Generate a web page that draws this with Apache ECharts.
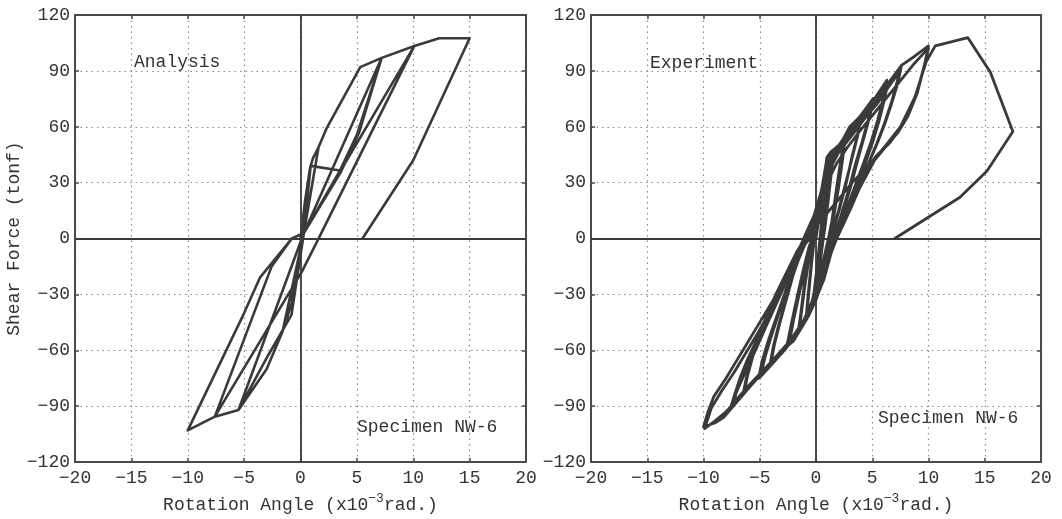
<!DOCTYPE html>
<html>
<head>
<meta charset="utf-8">
<script src="https://cdn.jsdelivr.net/npm/echarts@6/dist/echarts.min.js"></script>
<style>
html,body{margin:0;padding:0;background:#fff;}
#c{width:1062px;height:519px;}
</style>
</head>
<body>
<div id="c"></div>
<script>
// ---- data ----
var xTicks = [-20, -15, -10, -5, 0, 5, 10, 15, 20];
var yTicks = [-120, -90, -60, -30, 0, 30, 60, 90, 120];
var panelTitles = ['Analysis', 'Experiment'];
var specimenLabel = 'Specimen NW-6';
var xAxisTitle = 'Rotation Angle (x10';
var xAxisSup = '\u22123';
var xAxisTail = 'rad.)';
var yAxisTitle = 'Shear Force (tonf)';

// Analysis: [rotation angle (x1e-3 rad), shear force (tonf)]
var analysisPath = [
  [0,0],[0.4,20],[0.85,38],
  [0.3,3],[-0.3,-15],[-0.8,-35],
  [0.3,3],[0.85,38],[1.1,43],[1.6,49],
  [0.3,3],[-0.8,-35],[-1.6,-50],
  [0.3,3],[1.6,49],[2.3,59],[5.3,92],[7.2,97],
  [5,55.7],[3.5,36.5],[0.3,3],[-1.6,-50],[-3,-70],[-5.5,-92],
  [-2.85,-62.5],[-0.8,-41],[0.3,3],[0.9,39],[3.5,36.5],[5,55.7],[7.2,97],
  [5.2,57],[3.6,36],[0.3,3],[-5.5,-92],[-7.6,-95.6],
  [-2.55,-14.8],[-0.77,0],[0.3,3],[7.2,97],[10.1,103.4],
  [1.6,0],[0.1,-18],[-7.6,-95.6],[-10,-103],
  [-5,-40],[-3.6,-21],[-0.77,0],[0.3,3],[10.1,103.4],[12.3,107.5],[15,107.5],
  [10,42],[5.5,0]
];

// Experiment: cycles grouped by amplitude
var expCyclesSmall = [
  [0,0],[0.3,12],[0.6,25],[0.95,43],
  [0.8,30],[0.55,12],[0.35,0],[0.1,-15],[-0.2,-30],[-0.6,-40],[-0.85,-43],
  [-0.65,-30],[-0.4,-14],[-0.15,0],[0.25,15],[0.6,30],[0.95,42],
  [0.85,30],[0.6,12],[0.4,0],[0.15,-15],[-0.15,-29],[-0.5,-38],[-0.9,-44],
  [-0.7,-30],[-0.45,-15],[-0.2,0],[0.2,14],[0.55,28],[1.0,44],[1.4,47]
];
var expCycles15 = [
  [1.2,36],[0.9,20],[0.6,5],[0.5,0],[0.25,-14],[-0.1,-28],[-0.6,-40],[-1.2,-47],[-1.5,-50],
  [-1.3,-40],[-1.0,-26],[-0.6,-10],[-0.35,0],[0.1,12],[0.45,24],[0.8,36],[1.2,45],[1.6,48],
  [1.4,37],[1.1,21],[0.8,6],[0.65,0],[0.35,-14],[0,-27],[-0.5,-39],[-1.1,-46],[-1.6,-51],
  [-1.35,-40],[-1.05,-25],[-0.7,-10],[-0.4,0],[0.05,12],[0.4,23],[0.75,35],[1.15,44],[1.8,49]
];
var expCycles25 = [
  [2.1,50.5],[2.5,54],
  [2.3,42],[1.9,25],[1.4,8],[1.1,0],[0.7,-12],[0.2,-25],[-0.3,-35],[-1.0,-45],[-2.0,-55],[-2.6,-58],
  [-2.2,-46],[-1.7,-32],[-1.1,-16],[-0.6,-4],[-0.3,0],[0.2,12],[0.6,26],[1.1,40],[1.8,48],[2.6,55],
  [2.4,44],[2.0,27],[1.5,9],[1.2,0],[0.8,-12],[0.3,-25],[-0.2,-34],[-0.9,-44],[-1.9,-54],[-2.5,-57],
  [-2.1,-45],[-1.6,-31],[-1.0,-15],[-0.5,-3],[-0.25,0],[0.25,13],[0.7,28],[1.2,41],[1.9,49],[2.5,53],
  [2.2,42],[1.8,26],[1.4,9],[1.1,0],[0.6,-13],[0.1,-26],[-0.5,-38],[-1.3,-48],[-2.4,-57],
  [-2.0,-44],[-1.5,-30],[-0.9,-14],[-0.45,-2],[-0.2,0],[0.3,14],[0.8,30],[1.4,43],[2.2,51],[3,60]
];
var expCycles4 = [
  [3.5,63],[4.0,66],
  [3.7,56],[3.2,44],[2.7,30],[2.1,16],[1.5,4],[1.3,0],[0.8,-13],[0.3,-25],[-0.2,-34],[-0.9,-44],[-1.9,-53],[-3.0,-61],[-4.0,-67],
  [-3.7,-57],[-3.2,-45],[-2.6,-32],[-2.0,-19],[-1.3,-7],[-0.7,0],[-0.1,11],[0.4,22],[0.8,33],[1.3,42],[2.1,50],[3.0,58],[4.0,65],
  [3.7,55],[3.2,43],[2.6,29],[2.0,15],[1.4,3],[1.25,0],[0.75,-13],[0.25,-25],[-0.3,-35],[-1.0,-45],[-2.0,-54],[-3.1,-62],[-4.1,-68],
  [-3.8,-58],[-3.3,-46],[-2.7,-33],[-2.1,-20],[-1.4,-8],[-0.75,0],[-0.15,11],[0.35,22],[0.75,33],[1.3,43],[2.2,51],[3.1,59],[3.9,65.5]
];
var expCycles5 = [
  [5.1,75.2],
  [4.8,66],[4.3,55],[3.7,42],[3.1,28],[2.4,14],[1.6,2],[1.4,0],[0.9,-12],[0.4,-24],[-0.1,-33],[-0.8,-43],[-1.8,-52],[-2.8,-60],[-3.6,-65],[-4.3,-69],[-5.1,-75],
  [-4.8,-66],[-4.2,-54],[-3.5,-42],[-2.7,-28],[-1.9,-15],[-1.1,-4],[-0.6,0],[0,10],[0.5,20],[0.9,32],[1.4,42],[2.3,50],[3.1,58],[4.0,65],[5.0,73],
  [4.7,64],[4.2,54],[3.6,41],[3.0,27],[2.3,13],[1.6,1],[1.5,0],[1.0,-12],[0.5,-24],[0,-33],[-0.7,-42],[-1.7,-51],[-2.7,-59],[-3.7,-66],[-4.9,-74],
  [-4.6,-65],[-4.0,-53],[-3.3,-40],[-2.5,-26],[-1.7,-13],[-1.0,-3],[-0.5,0],[0.1,11],[0.55,22],[1.0,34],[1.6,44],[2.5,52],[3.3,59],[4.1,66],[5.0,74],
  [4.6,63],[4.1,52],[3.5,40],[2.9,26],[2.2,12],[1.5,0],[1.0,-12],[0.5,-23],[-0.1,-33],[-0.9,-44],[-1.9,-53],[-3.0,-61],[-4.0,-67],[-4.9,-73],
  [-4.5,-63],[-3.9,-51],[-3.2,-38],[-2.4,-25],[-1.6,-12],[-0.9,-2],[-0.45,0],[0.2,12],[0.6,24],[1.1,36],[1.8,46],[2.8,55],[3.6,61],[4.5,68],[5.2,75],[6.3,85]
];
var expCycles65 = [
  [6.0,76],[5.5,64],[4.9,52],[4.2,40],[3.4,27],[2.6,14],[1.8,3],[1.6,0],[1.1,-11],[0.6,-22],[0,-31],[-0.7,-41],[-1.6,-50],[-2.6,-58],[-3.7,-65],[-4.8,-72],[-5.8,-79],[-6.4,-83],
  [-6.1,-74],[-5.6,-63],[-5.0,-52],[-4.2,-40],[-3.4,-29],[-2.5,-18],[-1.6,-7],[-0.9,0],[-0.2,11],[0.4,23],[0.9,34],[1.5,43],[2.4,50],[3.3,57],[4.3,65],[5.3,73],[6.4,84],
  [6.1,75],[5.6,63],[5.0,51],[4.3,39],[3.5,26],[2.7,13],[1.9,2],[1.7,0],[1.2,-11],[0.7,-22],[0.1,-31],[-0.6,-40],[-1.5,-49],[-2.5,-57],[-3.6,-64],[-4.7,-71],[-5.8,-79],[-6.5,-84],
  [-6.2,-75],[-5.7,-63],[-5.1,-52],[-4.3,-40],[-3.5,-29],[-2.6,-18],[-1.7,-7],[-0.95,0],[-0.25,11],[0.35,23],[0.85,34],[1.5,44],[2.5,52],[3.5,59],[4.6,67],[5.6,75],[6.5,84],[7.6,93]
];
var expCycles75 = [
  [7.3,85],[6.8,74],[6.2,63],[5.5,52],[4.8,42],[4.0,31],[3.1,19],[2.2,8],[1.6,0],[1.1,-10],[0.6,-20],[0.1,-29],[-0.5,-38],[-1.3,-47],[-2.2,-55],[-3.2,-62],[-4.2,-68],[-5.2,-74],[-6.2,-81],[-7.0,-87],[-7.5,-91],
  [-7.2,-84],[-6.6,-76],[-6.0,-68],[-5.3,-59],[-4.5,-48],[-3.6,-36],[-2.7,-24],[-1.8,-12],[-1.0,-2],[-0.8,0],[-0.1,12],[0.5,24],[1.0,35],[1.7,44],[2.6,51],[3.5,58],[4.5,66],[5.4,73],[6.3,81],[7.0,87],[7.5,92],
  [7.2,84],[6.7,73],[6.1,62],[5.4,51],[4.7,41],[3.9,30],[3.0,18],[2.1,7],[1.6,0],[1.1,-11],[0.6,-21],[0,-30],[-0.6,-39],[-1.4,-48],[-2.4,-56],[-3.4,-63],[-4.4,-69],[-5.5,-76],[-6.5,-83],[-7.4,-90],
  [-7.1,-83],[-6.5,-74],[-5.9,-66],[-5.2,-57],[-4.4,-46],[-3.5,-34],[-2.6,-22],[-1.7,-10],[-0.9,0],[-0.2,11],[0.4,23],[0.9,34],[1.6,43],[2.5,50],[3.4,57],[4.4,65],[5.4,72],[6.3,80],[7.1,87],[7.6,93],
  [7.3,84],[6.7,72],[6.0,60],[5.3,49],[4.5,38],[3.7,27],[2.8,16],[2.0,6],[1.5,0],[1.0,-11],[0.4,-22],[-0.1,-31],[-0.8,-41],[-1.7,-50],[-2.7,-58],[-3.8,-65],[-4.9,-72],[-6.0,-79],[-7.0,-86],[-7.6,-91],
  [-7.2,-83],[-6.7,-74],[-6.1,-65],[-5.4,-56],[-4.6,-45],[-3.7,-33],[-2.8,-21],[-1.8,-9],[-0.8,0],[0,12],[0.6,25],[1.2,37],[2.0,46],[3.0,54],[4.0,62],[5.0,70],[6.0,78],[7.0,86],[7.6,93],[8.8,98],[10,103.4]
];
var expCycles10 = [
  [9.6,92],[9.0,78],[8.2,66],[7.5,59],[6.5,51],[5.3,44],[4.6,36],[3.9,27.5],[3.0,15],[1.84,0],[1.2,-10],[0.6,-20],[0,-30],[-0.8,-42],[-1.8,-52],[-3.0,-61],[-4.3,-69],[-5.8,-79],[-7.5,-91],[-8.2,-96],[-9.0,-99],[-10,-101],
  [-9.6,-93],[-9.1,-85],[-8.0,-75],[-7.0,-65],[-6.2,-57],[-5.2,-47],[-4.2,-37],[-3.2,-27],[-2.3,-16],[-1.6,-7],[-1.1,0],[-0.24,11.5],[0.4,20],[1.0,30],[1.8,40],[2.8,49],[3.8,57],[5.0,66],[6.2,75],[7.4,84],[8.6,93],[9.5,99],[10,102],
  [9.5,90],[8.9,77],[8.1,65],[7.3,57],[6.3,50],[5.2,42],[4.4,33],[3.6,24],[2.7,12],[1.8,0],[1.1,-12],[0.4,-23],[-0.3,-33],[-1.1,-44],[-2.2,-54],[-3.5,-63],[-5.0,-73],[-6.6,-84],[-8.0,-93],[-9.0,-98],[-9.9,-102]
];
var expFinal = [
  [-9.3,-91],[-8.4,-82],[-7.3,-72],[-6.2,-61],[-5.1,-50],[-4.1,-39],[-3.1,-27],[-2.2,-16],[-1.5,-6],[-1.0,0],[0.2,8],[1.6,18],[3.2,30],[4.8,40],[6.2,50],[7.5,60],[8.8,76],[9.8,95],[10.6,103.4],
  [13.5,107.8],[15.5,89.3],[17.5,57.5],[15.2,36.3],[12.8,22.2],[7,0]
];

// ---- build ----
var experimentPath = [].concat(expCyclesSmall, expCycles15, expCycles25, expCycles4, expCycles5,
  expCycles65, expCycles75, expCycles10, expFinal);
var FONT = "'Liberation Mono', 'DejaVu Sans Mono', monospace";
var TXT = '#333';
var AX = '#4a4a4a';
function minus(v) { return String(v).replace('-', '\u2212'); }

var xMin = xTicks[0], xMax = xTicks[xTicks.length - 1], xInt = xTicks[1] - xTicks[0];
var yMin = yTicks[0], yMax = yTicks[yTicks.length - 1], yInt = yTicks[1] - yTicks[0];
var gridDash = { color: '#8a8a8a', type: [1.5, 4], width: 1.2 };

function xBottom(gi) {
  return {
    type: 'value', gridIndex: gi, min: xMin, max: xMax, interval: xInt, position: 'bottom',
    axisLine: { show: true, onZero: false, lineStyle: { color: AX, width: 2 } },
    axisTick: { show: true, inside: true, length: 4, lineStyle: { color: AX, width: 1.5 } },
    splitLine: { show: true, lineStyle: gridDash },
    axisLabel: { fontFamily: FONT, fontSize: 18, color: TXT, margin: 7, formatter: minus },
    name: '{b|' + xAxisTitle + '}{s|' + xAxisSup + '}{b|' + xAxisTail + '}',
    nameLocation: 'middle', nameGap: 27,
    nameTextStyle: {
      fontFamily: FONT, fontSize: 18, color: TXT,
      rich: {
        b: { fontFamily: FONT, fontSize: 18, color: TXT, lineHeight: 22, verticalAlign: 'bottom' },
        s: { fontFamily: FONT, fontSize: 13, color: TXT, lineHeight: 22, verticalAlign: 'top' }
      }
    }
  };
}
function xTop(gi) {
  return {
    type: 'value', gridIndex: gi, min: xMin, max: xMax, interval: xInt, position: 'top',
    axisLine: { show: true, onZero: false, lineStyle: { color: AX, width: 2 } },
    axisTick: { show: true, inside: true, length: 4, lineStyle: { color: AX, width: 1.5 } },
    splitLine: { show: false }, axisLabel: { show: false }
  };
}
function yLeft(gi, withName) {
  var a = {
    type: 'value', gridIndex: gi, min: yMin, max: yMax, interval: yInt, position: 'left',
    axisLine: { show: true, onZero: false, lineStyle: { color: AX, width: 2 } },
    axisTick: { show: true, inside: true, length: 4, lineStyle: { color: AX, width: 1.5 } },
    splitLine: { show: true, lineStyle: gridDash },
    axisLabel: { fontFamily: FONT, fontSize: 18, color: TXT, margin: 5, formatter: minus }
  };
  if (withName) {
    a.name = yAxisTitle; a.nameLocation = 'middle'; a.nameGap = 50; a.nameRotate = 90;
    a.nameTextStyle = { fontFamily: FONT, fontSize: 18, color: TXT };
  }
  return a;
}
function yRight(gi) {
  return {
    type: 'value', gridIndex: gi, min: yMin, max: yMax, interval: yInt, position: 'right',
    axisLine: { show: true, onZero: false, lineStyle: { color: AX, width: 2 } },
    axisTick: { show: true, inside: true, length: 4, lineStyle: { color: AX, width: 1.5 } },
    splitLine: { show: false }, axisLabel: { show: false }
  };
}
function zeroLines() {
  return {
    silent: true, symbol: 'none', label: { show: false },
    lineStyle: { color: '#3a3a3a', width: 1.8, type: 'solid' },
    data: [{ xAxis: 0 }, { yAxis: 0 }], animation: false
  };
}
function curve(xi, yi, data, w) {
  return {
    type: 'line', xAxisIndex: xi, yAxisIndex: yi, data: data, showSymbol: false, symbol: 'none',
    lineStyle: { color: '#3a3a3a', width: w, join: 'round', cap: 'round' },
    silent: true, animation: false, z: 3,
    markLine: zeroLines()
  };
}

var chart = echarts.init(document.getElementById('c'), null, { renderer: 'canvas' });
chart.setOption({
  animation: false,
  backgroundColor: '#ffffff',
  grid: [
    { left: 75, top: 15, width: 451, height: 454 },
    { left: 591, top: 15, width: 450, height: 454 }
  ],
  xAxis: [xBottom(0), xTop(0), xBottom(1), xTop(1)],
  yAxis: [yLeft(0, true), yRight(0), yLeft(1, false), yRight(1)],
  series: [
    curve(0, 0, analysisPath, 2.6),
    curve(2, 2, experimentPath, 2.8)
  ],
  graphic: [
    { type: 'text', left: 134, top: 53, style: { text: panelTitles[0], font: '18px ' + FONT, fill: TXT } },
    { type: 'text', left: 650, top: 54, style: { text: panelTitles[1], font: '18px ' + FONT, fill: TXT } },
    { type: 'text', left: 357, top: 418, style: { text: specimenLabel, font: '18px ' + FONT, fill: TXT } },
    { type: 'text', left: 878, top: 409, style: { text: specimenLabel, font: '18px ' + FONT, fill: TXT } }
  ]
});
</script>
</body>
</html>
